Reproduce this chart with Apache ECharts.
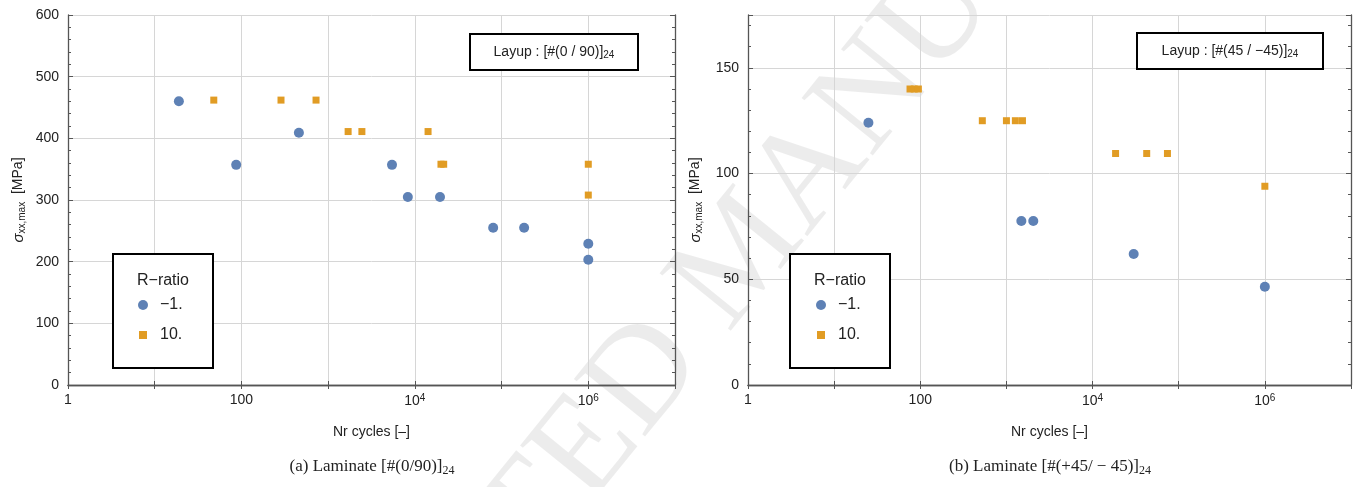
<!DOCTYPE html>
<html>
<head>
<meta charset="utf-8">
<script src="https://cdn.jsdelivr.net/npm/echarts@6/dist/echarts.min.js"></script>
<style>
html,body{margin:0;padding:0;background:#fff;}
#chart{width:1358px;height:487px;}
</style>
</head>
<body>
<div id="chart"></div>
<script>
// (a) laminate #(0/90) : cycles / max stress
var leftBlueN = [19, 87, 460, 5450, 8300, 19500, 80000, 182000, 1e6, 1e6];
var leftBlueS = [460, 357, 409, 357, 305, 305, 255, 255, 229, 203];
var leftOrangeN = [48, 286, 725, 1700, 2450, 14200, 20000, 21500, 1e6, 1e6];
var leftOrangeS = [462, 462, 462, 411, 411, 411, 358, 358, 358, 308];
// (b) laminate #(45/-45)
var rightBlueN = [25, 1490, 2050, 30000, 1e6];
var rightBlueS = [124, 77.6, 77.6, 62, 46.5];
var rightOrangeN = [76, 85, 95, 525, 1000, 1270, 1535, 18500, 42500, 74000, 1e6];
var rightOrangeS = [140, 140, 140, 125, 125, 125, 125, 109.5, 109.5, 109.5, 94];

var seriesNames = ['−1.', '10.'];
var xName = 'Nr cycles [–]';
var yName = '{it|σ}{sub|xx,max}  [MPa]';

var blue = '#5E81B5';
var orange = '#E19C24';
var ink = '#222';
var frame = '#555';
var gridColor = '#d6d6d6';

function zip(n, s){
	var out = [];
	for(var i=0;i<n.length;i++){
		out.push([n[i], s[i]]);
	}
	return out;
}

//x轴刻度 1, 100, 10^4, 10^6
function decadeLabel(v){
	var e = Math.round(Math.log10(v));
	if(e % 2) return '';
	if(e == 0) return '1';
	if(e == 2) return '100';
	return '10{sup|' + e + '}';
}

function xAxisOf(grid, pos){
	var bottom = pos == 'bottom';
	return {
		gridIndex: grid, type: 'log', logBase: 10, min: 1, max: 1e7, position: pos,
		axisLine: {show: true, lineStyle: {color: frame, width: 1.3}},
		axisTick: {show: true, inside: true, length: 4, lineStyle: {color: frame}},
		axisLabel: {show: bottom, formatter: decadeLabel, color: ink, fontSize: 14, margin: 8,
			fontFamily: 'Liberation Sans',
			rich: {sup: {fontSize: 10, fontFamily: 'Liberation Sans', color: ink, padding: [0, 0, 7, 0]}}},
		splitLine: {show: bottom, lineStyle: {color: gridColor, width: 1}},
		name: bottom ? xName : '', nameLocation: 'middle', nameGap: 40,
		nameTextStyle: {fontSize: 14, color: ink, fontFamily: 'Liberation Sans'}
	};
}

function yAxisOf(grid, pos, max, interval, gap){
	var left = pos == 'left';
	return {
		gridIndex: grid, type: 'value', min: 0, max: max, interval: interval, position: pos,
		axisLine: {show: true, lineStyle: {color: frame, width: 1.3}},
		axisTick: {show: true, inside: true, length: 5, lineStyle: {color: frame}},
		minorTick: {show: true, splitNumber: 5, length: 3, lineStyle: {color: frame}},
		axisLabel: {show: left, color: ink, fontSize: 14, margin: 9, fontFamily: 'Liberation Sans',
			showMaxLabel: max % interval == 0},
		splitLine: {show: left, lineStyle: {color: gridColor, width: 1}},
		name: left ? yName : '', nameLocation: 'middle', nameGap: gap,
		nameTextStyle: {fontSize: 14, color: ink, fontFamily: 'Liberation Sans',
			rich: {
				it: {fontSize: 15, fontStyle: 'italic', fontFamily: 'Liberation Sans', color: ink},
				sub: {fontSize: 10, fontFamily: 'Liberation Sans', color: ink, padding: [7, 0, 0, 0]}
			}}
	};
}

function scatter(name, xi, yi, data, symbol, size, color){
	return {
		type: 'scatter', name: name, xAxisIndex: xi, yAxisIndex: yi, data: data,
		symbol: symbol, symbolSize: size, itemStyle: {color: color, opacity: 1},
		emphasis: {disabled: true}
	};
}

function legendOf(left){
	return {
		left: left, top: 297, orient: 'vertical', padding: 0, itemWidth: 10, itemHeight: 10, itemGap: 14,
		selectedMode: false, z: 120,
		data: [
			{name: seriesNames[0], icon: 'circle'},
			{name: seriesNames[1], icon: 'rect', itemStyle: {borderColor: '#fff', borderWidth: 2}}
		],
		textStyle: {fontSize: 16, color: ink, fontFamily: 'Liberation Sans', padding: [0, 0, 0, 7]}
	};
}

function boxOf(x, y, w, h){
	return {type: 'rect', z: 100, shape: {x: x, y: y, width: w, height: h},
		style: {fill: '#fff', stroke: '#000', lineWidth: 2}};
}

function textOf(x, y, text, size, family, extra){
	var st = {text: text, fontSize: size, fontFamily: family, fill: ink, align: 'center', verticalAlign: 'middle'};
	if(extra) st.rich = extra;
	return {type: 'text', z: 101, x: x, y: y, style: st};
}

var subSans = {sub: {fontSize: 10, fontFamily: 'Liberation Sans', fill: ink, padding: [7, 0, 0, 0]}};
var subSerif = {sub: {fontSize: 12, fontFamily: 'Liberation Serif', fill: ink, padding: [7, 0, 0, 0]}};

var chart = echarts.init(document.getElementById('chart'));
chart.setOption({
	animation: false,
	backgroundColor: '#fff',
	grid: [
		{left: 68, top: 15, width: 607, height: 370},
		{left: 748, top: 15, width: 603, height: 370}
	],
	xAxis: [xAxisOf(0, 'bottom'), xAxisOf(0, 'top'), xAxisOf(1, 'bottom'), xAxisOf(1, 'top')],
	yAxis: [yAxisOf(0, 'left', 600, 100, 41), yAxisOf(0, 'right', 600, 100, 0),
		yAxisOf(1, 'left', 175, 50, 44), yAxisOf(1, 'right', 175, 50, 0)],
	legend: [legendOf(137), legendOf(815)],
	series: [
		scatter(seriesNames[0], 0, 0, zip(leftBlueN, leftBlueS), 'circle', 10, blue),
		scatter(seriesNames[1], 0, 0, zip(leftOrangeN, leftOrangeS), 'rect', 7, orange),
		scatter(seriesNames[0], 2, 2, zip(rightBlueN, rightBlueS), 'circle', 10, blue),
		scatter(seriesNames[1], 2, 2, zip(rightOrangeN, rightOrangeS), 'rect', 7, orange)
	],
	graphic: [
		//水印
		{type: 'text', z: 0, x: 745, y: 255, rotation: 0.89, silent: true,
			style: {text: 'ACCEPTED MANUSCRIPT', fontSize: 140, fontFamily: 'Liberation Serif',
				fill: 'rgba(0,0,0,0.075)', align: 'center', verticalAlign: 'middle'}},
		// layup boxes
		boxOf(470, 34, 168, 36),
		textOf(554, 52, 'Layup : [#(0 / 90)]{sub|24}', 14, 'Liberation Sans', subSans),
		boxOf(1137, 33, 186, 36),
		textOf(1230, 51, 'Layup : [#(45 / −45)]{sub|24}', 14, 'Liberation Sans', subSans),
		// legend boxes
		boxOf(113, 254, 100, 114),
		textOf(163, 281, 'R−ratio', 16, 'Liberation Sans'),
		boxOf(790, 254, 100, 114),
		textOf(840, 281, 'R−ratio', 16, 'Liberation Sans'),
		// captions
		textOf(372, 467, '(a) Laminate [#(0/90)]{sub|24}', 17, 'Liberation Serif', subSerif),
		textOf(1050, 467, '(b) Laminate [#(+45/ − 45)]{sub|24}', 17, 'Liberation Serif', subSerif)
	]
});
</script>
</body>
</html>
